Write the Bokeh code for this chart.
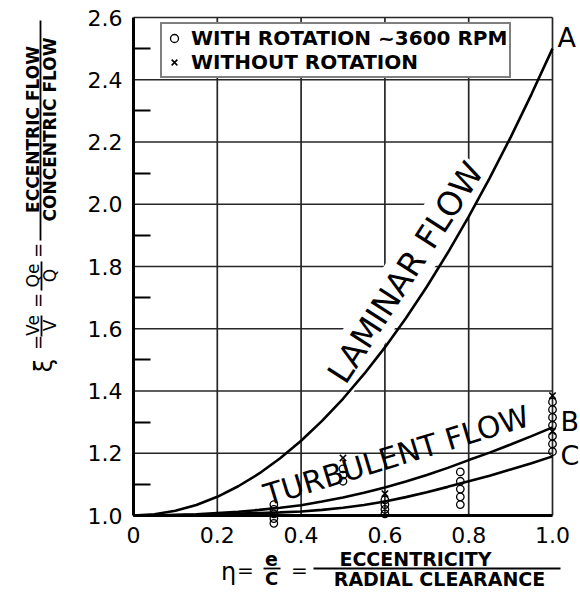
import math

from bokeh.plotting import figure
from bokeh.models import FixedTicker, Label, Arrow, Legend, LegendItem, Range1d
from bokeh.embed import file_html
from bokeh.resources import INLINE

# --- flow-ratio curves: xi = eccentric flow / concentric flow vs eta = e / C ---
eta = [0.0, 0.05, 0.1, 0.15, 0.2, 0.25, 0.3, 0.35, 0.4, 0.45, 0.5,
       0.55, 0.6, 0.65, 0.7, 0.75, 0.8, 0.85, 0.9, 0.95, 1.0]
laminar_xi = [1.0, 1.004, 1.015, 1.034, 1.06, 1.094, 1.135, 1.184, 1.24, 1.304, 1.375,
              1.454, 1.54, 1.634, 1.735, 1.844, 1.96, 2.084, 2.215, 2.354, 2.5]
turbulent_b_xi = [1.0, 1.0, 1.002, 1.004, 1.008, 1.012, 1.018, 1.025, 1.033, 1.045, 1.058,
                  1.073, 1.09, 1.109, 1.13, 1.153, 1.178, 1.202, 1.228, 1.255, 1.283]
turbulent_c_xi = [1.0, 1.0, 1.001, 1.002, 1.004, 1.006, 1.008, 1.01, 1.013, 1.018, 1.025,
                  1.034, 1.045, 1.059, 1.075, 1.092, 1.11, 1.128, 1.148, 1.168, 1.19]

# --- test points ---
rot_eta = [0.335, 0.335, 0.335, 0.335, 0.335,
           0.5, 0.5, 0.5,
           0.6, 0.6, 0.6, 0.6,
           0.78, 0.78, 0.78, 0.78, 0.78,
           1.0, 1.0, 1.0, 1.0, 1.0, 1.0, 1.0]
rot_xi = [1.035, 1.02, 1.005, 0.99, 0.975,
          1.15, 1.13, 1.11,
          1.05, 1.035, 1.02, 1.005,
          1.14, 1.11, 1.085, 1.06, 1.035,
          1.365, 1.34, 1.315, 1.29, 1.255, 1.23, 1.205]
norot_eta = [0.5, 0.6, 1.0, 1.0]
norot_xi = [1.185, 1.07, 1.385, 1.27]

# --- axes ---
x_ticks = [0, 0.2, 0.4, 0.6, 0.8, 1.0]
x_tick_labels = ["0", "0.2", "0.4", "0.6", "0.8", "1.0"]
y_ticks = [1.0, 1.2, 1.4, 1.6, 1.8, 2.0, 2.2, 2.4, 2.6]
y_tick_labels = ["1.0", "1.2", "1.4", "1.6", "1.8", "2.0", "2.2", "2.4", "2.6"]
y_minor_ticks = [1.1, 1.3, 1.5, 1.7, 1.9, 2.1, 2.3, 2.5]

FONT = "DejaVu Sans"
W, H = 580, 592
ETA_LIM = (0.0, 1.0)
XI_LIM = (1.0, 2.6)
# pixel box of the graph paper inside the canvas
BOX_LEFT, BOX_RIGHT, BOX_TOP, BOX_BOTTOM = 133, 552, 17, 515

# The plotting frame covers the whole canvas so the lettering around the
# graph paper is not clipped; axes are pinned to the paper's edges.
SX = (BOX_RIGHT - BOX_LEFT) / (ETA_LIM[1] - ETA_LIM[0])
SY = (BOX_BOTTOM - BOX_TOP) / (XI_LIM[1] - XI_LIM[0])
X_START = ETA_LIM[0] - BOX_LEFT / SX
X_END = ETA_LIM[0] + (W - BOX_LEFT) / SX
Y_END = XI_LIM[1] + BOX_TOP / SY
Y_START = XI_LIM[0] - (H - BOX_BOTTOM) / SY


def at(px, py):
    """Canvas pixel position -> data coordinates (for lettering placement)."""
    return X_START + px / SX, Y_END - py / SY


p = figure(width=W, height=H, x_range=Range1d(X_START, X_END),
           y_range=Range1d(Y_START, Y_END), output_backend="svg",
           toolbar_location=None, min_border=0)
p.background_fill_color = "white"
p.border_fill_color = "white"
p.outline_line_color = None
p.xgrid.visible = False
p.ygrid.visible = False

p.xaxis.fixed_location = XI_LIM[0]
p.xaxis.bounds = ETA_LIM
p.xaxis.ticker = FixedTicker(ticks=x_ticks)
p.xaxis.major_label_overrides = dict(zip(x_ticks, x_tick_labels))
p.yaxis.fixed_location = ETA_LIM[0]
p.yaxis.bounds = XI_LIM
p.yaxis.ticker = FixedTicker(ticks=y_ticks, minor_ticks=y_minor_ticks)
p.yaxis.major_label_overrides = dict(zip(y_ticks, y_tick_labels))

for ax in (p.xaxis, p.yaxis):
    ax.axis_line_width = 3
    ax.axis_line_color = "black"
    ax.major_tick_in = 0
    ax.major_tick_out = 0
    ax.major_label_text_font = FONT
    ax.major_label_text_font_size = "22px"
    ax.major_label_text_color = "black"
    ax.major_label_standoff = 11
p.xaxis.minor_tick_line_color = None
p.yaxis.minor_tick_in = 17
p.yaxis.minor_tick_out = 0
p.yaxis.minor_tick_line_width = 2
p.yaxis.minor_tick_line_color = "black"

# graph-paper rulings at the major ticks; the last ones close the box
gx = [t for t in x_ticks if t > ETA_LIM[0]]
gy = [t for t in y_ticks if t > XI_LIM[0]]
p.segment(x0=gx, y0=[XI_LIM[0]] * len(gx), x1=gx, y1=[XI_LIM[1]] * len(gx),
          line_color="#262626", line_width=1.7)
p.segment(x0=[ETA_LIM[0]] * len(gy), y0=gy, x1=[ETA_LIM[1]] * len(gy), y1=gy,
          line_color="#262626", line_width=1.7)

# curves (kept above the lettering backgrounds)
for ys in (laminar_xi, turbulent_b_xi, turbulent_c_xi):
    r = p.line(eta, ys, line_color="black", line_width=2.6)
    r.level = "overlay"

r_rot = p.scatter(rot_eta, rot_xi, marker="circle", size=7.5, fill_color=None,
                  line_color="black", line_width=1.3, level="overlay")
r_no = p.scatter(norot_eta, norot_xi, marker="x", size=9,
                 line_color="black", line_width=1.6, level="overlay")

LEGEND_LEFT, LEGEND_BOTTOM = 160, 78
legend = Legend(items=[LegendItem(label="WITH ROTATION ~3600 RPM", renderers=[r_rot]),
                       LegendItem(label="WITHOUT ROTATION", renderers=[r_no])],
                location=(LEGEND_LEFT, H - LEGEND_BOTTOM), margin=0, padding=2, spacing=0,
                glyph_width=20, glyph_height=20, label_height=17, label_standoff=7,
                label_text_font=FONT, label_text_font_style="bold",
                label_text_font_size="20px", label_text_color="black",
                border_line_color="black", border_line_width=2,
                background_fill_color="white", background_fill_alpha=1.0)
p.add_layout(legend)


def put(text, px, py, size, angle=0.0, align="center", bold=False, bg=None):
    x, y = at(px, py)
    p.add_layout(Label(x=x, y=y, text=text, text_font=FONT,
                       text_font_size=f"{size}px", text_align=align,
                       text_baseline="middle", angle=angle, text_color="black",
                       text_font_style="bold" if bold else "normal",
                       background_fill_color=bg, padding=2))


def rule(px0, py0, px1, py1, width=1.8):
    x0, y0 = at(px0, py0)
    x1, y1 = at(px1, py1)
    p.add_layout(Arrow(x_start=x0, y_start=y0, x_end=x1, y_end=y1,
                       start=None, end=None, line_color="black", line_width=width))


# curve lettering
put("LAMINAR FLOW", 405, 272, 33, angle=math.radians(57), bg="white")
put("TURBULENT FLOW", 396, 455, 30, angle=math.radians(17))
put("A", 555, 37, 27, align="left")
put("B", 558, 421, 27, align="left")
put("C", 558, 455, 27, align="left")

# y-axis title:  xi = Ve/V = Qe/Q = ECCENTRIC FLOW / CONCENTRIC FLOW
up = math.pi / 2
put("ξ", 43, 365, 24, angle=up)
put("=", 37, 342, 18, angle=up)
put("Ve", 32, 325, 17, angle=up)
rule(41, 315, 41, 336)
put("V", 49, 325, 17, angle=up)
put("=", 37, 300, 18, angle=up)
put("Qe", 32, 275, 17, angle=up)
rule(41, 261, 41, 290)
put("Q", 49, 275, 17, angle=up)
put("=", 37, 250, 18, angle=up)
put("ECCENTRIC FLOW", 32, 129, 17, angle=up, bold=True)
rule(40, 20, 40, 240)
put("CONCENTRIC FLOW", 49, 129, 17, angle=up, bold=True)

# x-axis title:  eta = e/C = ECCENTRICITY / RADIAL CLEARANCE
put("η", 228, 571, 24)
put("=", 245, 569, 20)
put("e", 271, 558, 19, bold=True)
rule(263, 568, 280, 568)
put("C", 271, 578, 18, bold=True)
put("=", 299, 569, 20)
put("ECCENTRICITY", 415, 558, 19, bold=True)
rule(313, 568, 560, 568)
put("RADIAL CLEARANCE", 439, 578, 19, bold=True)

open("out.html", "w").write(file_html(p, INLINE))
